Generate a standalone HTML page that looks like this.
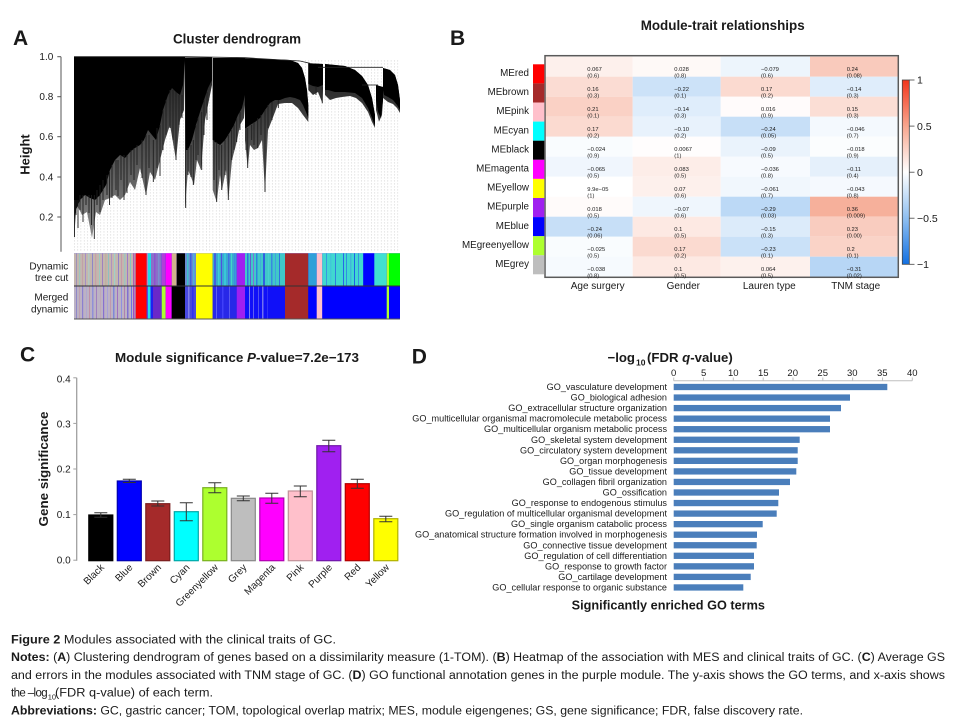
<!DOCTYPE html>
<html><head><meta charset="utf-8"><style>
html,body{margin:0;padding:0;background:#fff;}
svg{display:block;}
text{font-family:"Liberation Sans",Arial,sans-serif;fill:#1a1a1a;}
</style></head><body>
<svg width="957" height="724" viewBox="0 0 957 724" xmlns="http://www.w3.org/2000/svg">
<defs>
<pattern id="leaf" width="3.3" height="3" patternUnits="userSpaceOnUse"><rect x="1.4" y="0" width="0.6" height="1.7" fill="#d6d6d6"/></pattern>
<linearGradient id="cbar" x1="0" y1="0" x2="0" y2="1">
<stop offset="0" stop-color="#f2361c"/><stop offset="0.25" stop-color="#f8a68e"/><stop offset="0.5" stop-color="#ffffff"/><stop offset="0.75" stop-color="#8fbff0"/><stop offset="1" stop-color="#1270e2"/>
</linearGradient>
<linearGradient id="streak" gradientUnits="userSpaceOnUse" x1="0" y1="80" x2="0" y2="240">
<stop offset="0" stop-color="#2a2a2a"/><stop offset="0.5" stop-color="#555"/><stop offset="1" stop-color="#8a8a8a"/>
</linearGradient>
</defs>

<!-- ============ PANEL A ============ -->
<text x="13" y="45" font-size="21" font-weight="bold">A</text>
<text x="237" y="43.7" font-size="13.4" font-weight="bold" text-anchor="middle" textLength="128" lengthAdjust="spacingAndGlyphs">Cluster dendrogram</text>
<line x1="61" y1="56.7" x2="61" y2="251.7" stroke="#555" stroke-width="1"/>
<g stroke="#555" stroke-width="1">
<line x1="57.3" y1="56.7" x2="61" y2="56.7"/><line x1="57.3" y1="96.7" x2="61" y2="96.7"/><line x1="57.3" y1="136.7" x2="61" y2="136.7"/><line x1="57.3" y1="177" x2="61" y2="177"/><line x1="57.3" y1="217" x2="61" y2="217"/>
</g>
<g font-size="10" text-anchor="end">
<text x="53.3" y="60.2">1.0</text><text x="53.3" y="100.2">0.8</text><text x="53.3" y="140.2">0.6</text><text x="53.3" y="180.5">0.4</text><text x="53.3" y="220.5">0.2</text>
</g>
<text transform="translate(29.5,154.5) rotate(-90)" font-size="13" font-weight="bold" text-anchor="middle">Height</text>

<rect x="74" y="60" width="326" height="192" fill="url(#leaf)"/>

<g fill="url(#streak)">
<polygon points="74,57 185,57 185,60 184,110 180,120 176,160 170,125 165,140 160,160 155,180 150,172 146,195 140,168 135,190 130,182 125,195 120,200 115,195 110,198 105,200 100,215 96,212 92,238 87,212 82,215 77,205 74,236"/>
<polygon points="185,57.5 212,57.5 212,85 209,100 205,120 201,170 197,160 194,185 191,177 188,170 185,208"/>
<polygon points="212.7,58 245,58 245,105 244,118 240,125 236.7,142 232,160 228.3,200 226,170 222,190 220,175 216.7,202 212.7,190"/>
<polygon points="245,58.3 290,60 298,63 302,68 305,78 307,90 308.3,105 308.3,122 303,115 298,108 292,103 285,103 278,104 272,120 268,130 265,192 262,140 258,148 254,150 250,145 247.7,168 245,140"/>
<polygon points="308.3,63.3 323,64 323,88 322.3,103 318,92 313,95 308.3,90"/>
<polygon points="325,64 345,66 355,70 362,76 368,85 372,98 375,115 375,128 372,122 368,112 362,103 356,98 350,96 342,97 336,98 330,100 325,95"/>
<polygon points="376,85 383,87 383,100 382,115 379,121.7 376,110"/>
<polygon points="383,68 390,70 395,75 398,85 400,100 400,113 397,108 393,104 388,102 383,98"/>
</g>
<g fill="#000">
<polygon points="74,57 185,57 185,60 183,85 180,95 176,92 172,88 168,95 163,110 160,125 156,140 152,135 148,130 144,140 140,145 135,148 130,152 125,158 120,155 115,160 110,170 106,185 100,195 95,200 90,198 85,195 80,200 76,210 74,220"/>
<polygon points="185,57.5 212,57.5 212,80 208,88 204,100 200,112 196,125 192,140 188,150 185.5,150"/>
<polygon points="212.7,58 245,58 245,95 242,108 238,115 234,125 230,132 225,140 220,145 215,142 212.7,140"/>
<polygon points="245,58.3 290,60 298,63 302,68 305,78 307,90 308.3,105 308.3,118 306,112 303,105 300,100 295,98 290,97 285,98 280,100 275,100 270,103 265,110 260,118 255,122 250,125 246,128 245,128"/>
<polygon points="308.3,63.3 323,64 323,85 318,87 313,86 308.3,84"/>
<polygon points="325,64 345,66 355,70 362,76 368,85 372,98 375,115 375,126 372,118 368,108 362,98 355,93 345,92 335,92 328,90 325,90"/>
<polygon points="376,85 383,87 383,100 381,118 378,112 376,100"/>
<polygon points="383,68 390,70 395,75 398,85 400,100 400,110 397,105 393,100 388,97 384,95 383,90"/>
</g>
<g stroke="#1e1e1e" stroke-width="0.9">
<line x1="74.5" y1="200" x2="74.5" y2="237"/><line x1="76" y1="200" x2="76" y2="215"/><line x1="78" y1="200" x2="78" y2="228"/><line x1="80" y1="195" x2="80" y2="210"/><line x1="83" y1="195" x2="83" y2="222"/><line x1="86" y1="195" x2="86" y2="205"/><line x1="89" y1="195" x2="89" y2="213"/><line x1="91.5" y1="195" x2="91.5" y2="225"/><line x1="94.3" y1="195" x2="94.3" y2="239"/><line x1="97" y1="190" x2="97" y2="205"/><line x1="100" y1="185" x2="100" y2="212"/><line x1="103" y1="180" x2="103" y2="200"/><line x1="107" y1="175" x2="107" y2="195"/><line x1="109.5" y1="172" x2="109.5" y2="205"/><line x1="112" y1="165" x2="112" y2="198"/><line x1="116" y1="160" x2="116" y2="190"/><line x1="118" y1="160" x2="118" y2="196"/><line x1="121" y1="155" x2="121" y2="180"/><line x1="124" y1="155" x2="124" y2="200"/><line x1="127" y1="155" x2="127" y2="193"/><line x1="131" y1="150" x2="131" y2="175"/><line x1="134" y1="148" x2="134" y2="180"/><line x1="137" y1="145" x2="137" y2="165"/><line x1="142" y1="140" x2="142" y2="178"/><line x1="146" y1="135" x2="146" y2="195"/><line x1="149" y1="135" x2="149" y2="168"/><line x1="153.3" y1="140" x2="153.3" y2="182"/><line x1="157" y1="128" x2="157" y2="168"/><line x1="160" y1="125" x2="160" y2="176"/><line x1="163" y1="110" x2="163" y2="150"/><line x1="166" y1="100" x2="166" y2="135"/><line x1="170" y1="90" x2="170" y2="128"/><line x1="173" y1="90" x2="173" y2="140"/><line x1="176" y1="92" x2="176" y2="160"/><line x1="179" y1="95" x2="179" y2="125"/><line x1="182" y1="95" x2="182" y2="118"/>
<line x1="185.7" y1="150" x2="185.7" y2="208"/><line x1="188" y1="148" x2="188" y2="175"/><line x1="191" y1="145" x2="191" y2="177"/><line x1="193.3" y1="140" x2="193.3" y2="185"/><line x1="196" y1="125" x2="196" y2="160"/><line x1="198" y1="118" x2="198" y2="155"/><line x1="201.7" y1="112" x2="201.7" y2="170"/><line x1="204" y1="100" x2="204" y2="135"/><line x1="207" y1="92" x2="207" y2="120"/>
<line x1="214" y1="140" x2="214" y2="180"/><line x1="216.7" y1="142" x2="216.7" y2="202"/><line x1="219" y1="145" x2="219" y2="170"/><line x1="221.7" y1="145" x2="221.7" y2="190"/><line x1="225" y1="140" x2="225" y2="175"/><line x1="228.3" y1="135" x2="228.3" y2="200"/><line x1="231.7" y1="130" x2="231.7" y2="160"/><line x1="234" y1="125" x2="234" y2="150"/><line x1="236.7" y1="118" x2="236.7" y2="142"/><line x1="240" y1="112" x2="240" y2="130"/>
<line x1="246" y1="128" x2="246" y2="150"/><line x1="247.7" y1="128" x2="247.7" y2="168"/><line x1="251.7" y1="125" x2="251.7" y2="140"/><line x1="254" y1="122" x2="254" y2="145"/><line x1="257.7" y1="118" x2="257.7" y2="148"/><line x1="261" y1="115" x2="261" y2="135"/><line x1="265" y1="110" x2="265" y2="192"/><line x1="268" y1="105" x2="268" y2="128"/><line x1="272" y1="102" x2="272" y2="120"/><line x1="278.3" y1="100" x2="278.3" y2="108"/>
<line x1="322.3" y1="87" x2="322.3" y2="103.3"/><line x1="316" y1="87" x2="316" y2="95"/>
</g>
<g stroke="#222" stroke-width="0.8" fill="none">
<polyline points="74,56.7 186,56.7 245,57.7 300,61 310,63.3"/>
<line x1="318" y1="67.3" x2="383" y2="67.3"/>
<line x1="362" y1="85" x2="378" y2="85"/>
</g>

<!-- color bars -->
<rect x="74" y="253.3" width="326" height="65.7" fill="#0000ff"/>
<g>
<rect x="74" y="253.3" width="61.7" height="32.7" fill="#c4b6ae"/>
<rect x="76" y="253.3" width="1" height="32.7" fill="#a090b8"/><rect x="79" y="253.3" width="1.2" height="32.7" fill="#9fc6bd"/><rect x="82" y="253.3" width="0.8" height="32.7" fill="#c29aa6"/><rect x="85" y="253.3" width="1" height="32.7" fill="#a78fc4"/><rect x="88" y="253.3" width="1.5" height="32.7" fill="#b0c8c0"/><rect x="92" y="253.3" width="1" height="32.7" fill="#8f86c8"/><rect x="95" y="253.3" width="1.2" height="32.7" fill="#c8a0a8"/><rect x="99" y="253.3" width="1" height="32.7" fill="#9ccac0"/><rect x="102" y="253.3" width="1" height="32.7" fill="#a080c0"/><rect x="105" y="253.3" width="1.5" height="32.7" fill="#c0b0a0"/><rect x="108" y="253.3" width="1" height="32.7" fill="#8fc0c0"/><rect x="111" y="253.3" width="1" height="32.7" fill="#b090c0"/><rect x="114" y="253.3" width="1.2" height="32.7" fill="#a0d0c8"/><rect x="118" y="253.3" width="1" height="32.7" fill="#9080c8"/><rect x="121" y="253.3" width="1" height="32.7" fill="#c898a8"/><rect x="124" y="253.3" width="1.5" height="32.7" fill="#a0c4c0"/><rect x="127" y="253.3" width="1" height="32.7" fill="#a078c8"/><rect x="130" y="253.3" width="1" height="32.7" fill="#80c8c0"/><rect x="133" y="253.3" width="1.5" height="32.7" fill="#b060b0"/>
<rect x="135.7" y="253.3" width="11" height="32.7" fill="#ff0000"/>
<rect x="146.7" y="253.3" width="1.3" height="32.7" fill="#b090c0"/>
<rect x="148" y="253.3" width="3" height="32.7" fill="#20d8e8"/>
<rect x="151" y="253.3" width="10.7" height="32.7" fill="#8a70c8"/>
<rect x="154" y="253.3" width="1.5" height="32.7" fill="#9050d0"/><rect x="158" y="253.3" width="1.5" height="32.7" fill="#7a90d0"/>
<rect x="161.7" y="253.3" width="4" height="32.7" fill="#b040d8"/>
<rect x="165.7" y="253.3" width="6" height="32.7" fill="#ff00ff"/>
<rect x="171.7" y="253.3" width="5" height="32.7" fill="#d2b48c"/>
<rect x="176.7" y="253.3" width="8.3" height="32.7" fill="#000"/>
<rect x="185" y="253.3" width="11" height="32.7" fill="#6a8cd0"/>
<rect x="187" y="253.3" width="1.5" height="32.7" fill="#40c0c8"/><rect x="190" y="253.3" width="1.5" height="32.7" fill="#4060e0"/><rect x="193" y="253.3" width="1.5" height="32.7" fill="#50b0d8"/>
<rect x="196" y="253.3" width="16.7" height="32.7" fill="#ffff00"/>
<rect x="212.7" y="253.3" width="24" height="32.7" fill="#3aa8d0"/>
<rect x="214" y="253.3" width="2" height="32.7" fill="#4060e0"/><rect x="218" y="253.3" width="1.5" height="32.7" fill="#40d0d0"/><rect x="221" y="253.3" width="1" height="32.7" fill="#5050e0"/><rect x="224" y="253.3" width="2" height="32.7" fill="#38c8d8"/><rect x="228" y="253.3" width="1.5" height="32.7" fill="#4070e0"/><rect x="231" y="253.3" width="1" height="32.7" fill="#40d8c8"/><rect x="234" y="253.3" width="1.5" height="32.7" fill="#3890e0"/>
<rect x="236.7" y="253.3" width="8.3" height="32.7" fill="#a020f0"/>
<rect x="245" y="253.3" width="40" height="32.7" fill="#40c8c8"/>
<rect x="247" y="253.3" width="1.5" height="32.7" fill="#3070e0"/><rect x="250" y="253.3" width="1" height="32.7" fill="#6060d0"/><rect x="253" y="253.3" width="1" height="32.7" fill="#8070d8"/><rect x="256" y="253.3" width="1.5" height="32.7" fill="#3080e0"/><rect x="260" y="253.3" width="1" height="32.7" fill="#40b0d8"/><rect x="263" y="253.3" width="2" height="32.7" fill="#3060e0"/><rect x="268" y="253.3" width="1" height="32.7" fill="#48d0d0"/><rect x="271" y="253.3" width="1.5" height="32.7" fill="#3888e0"/><rect x="275" y="253.3" width="1" height="32.7" fill="#40a0e0"/><rect x="279" y="253.3" width="1" height="32.7" fill="#3070e0"/>
<rect x="285" y="253.3" width="23.3" height="32.7" fill="#a52a2a"/>
<rect x="308.3" y="253.3" width="8.4" height="32.7" fill="#30a0d8"/>
<rect x="316.7" y="253.3" width="5.6" height="32.7" fill="#ffc0cb"/>
<rect x="322.3" y="253.3" width="41" height="32.7" fill="#40d8d0"/>
<rect x="326" y="253.3" width="1" height="32.7" fill="#3898e0"/><rect x="330" y="253.3" width="1.5" height="32.7" fill="#40c8d8"/><rect x="335" y="253.3" width="1" height="32.7" fill="#3080e0"/><rect x="343" y="253.3" width="1" height="32.7" fill="#2868e8"/><rect x="346" y="253.3" width="1" height="32.7" fill="#3090e0"/><rect x="350" y="253.3" width="1.5" height="32.7" fill="#40b8d8"/><rect x="354" y="253.3" width="1" height="32.7" fill="#2060e8"/><rect x="358" y="253.3" width="1" height="32.7" fill="#3890e0"/>
<rect x="363.3" y="253.3" width="11" height="32.7" fill="#0000ff"/>
<rect x="374.3" y="253.3" width="12.4" height="32.7" fill="#40e0d0"/>
<rect x="386.7" y="253.3" width="2.3" height="32.7" fill="#adff2f"/>
<rect x="389" y="253.3" width="11" height="32.7" fill="#00ff00"/>
</g>
<g>
<rect x="74" y="286" width="61.7" height="33" fill="#bcb2c4"/>
<rect x="76" y="286" width="1" height="33" fill="#9088c8"/><rect x="79" y="286" width="1" height="33" fill="#c0a0b0"/><rect x="82" y="286" width="1.2" height="33" fill="#8c80d0"/><rect x="86" y="286" width="1" height="33" fill="#b0a8d0"/><rect x="89" y="286" width="1" height="33" fill="#c090a8"/><rect x="92" y="286" width="1.5" height="33" fill="#9090d8"/><rect x="96" y="286" width="1" height="33" fill="#a080c0"/><rect x="100" y="286" width="1" height="33" fill="#c0a8b8"/><rect x="103" y="286" width="1.2" height="33" fill="#8870d0"/><rect x="107" y="286" width="1" height="33" fill="#a8a0d8"/><rect x="110" y="286" width="1" height="33" fill="#c098b0"/><rect x="113" y="286" width="1.5" height="33" fill="#8088d8"/><rect x="117" y="286" width="1" height="33" fill="#a070c0"/><rect x="121" y="286" width="1" height="33" fill="#9090e0"/><rect x="124" y="286" width="1" height="33" fill="#b080b0"/><rect x="127" y="286" width="1.5" height="33" fill="#8070d0"/><rect x="131" y="286" width="1" height="33" fill="#7070e0"/><rect x="133" y="286" width="1.5" height="33" fill="#a050c0"/>
<rect x="135.7" y="286" width="11" height="33" fill="#ff0000"/>
<rect x="146.7" y="286" width="1.3" height="33" fill="#5050e0"/>
<rect x="148" y="286" width="2.5" height="33" fill="#20e0f0"/>
<rect x="150.5" y="286" width="2.5" height="33" fill="#2020f0"/>
<rect x="153" y="286" width="8.7" height="33" fill="#6a28c8"/>
<rect x="161.7" y="286" width="4" height="33" fill="#adff2f"/>
<rect x="165.7" y="286" width="6" height="33" fill="#ff00ff"/>
<rect x="171.7" y="286" width="13.3" height="33" fill="#000"/>
<rect x="185" y="286" width="11" height="33" fill="#4848e0"/>
<rect x="188" y="286" width="1.5" height="33" fill="#8080e8"/><rect x="192" y="286" width="1.5" height="33" fill="#3030f0"/>
<rect x="196" y="286" width="16.7" height="33" fill="#ffff00"/>
<rect x="212.7" y="286" width="24" height="33" fill="#2828e8"/>
<rect x="216" y="286" width="1" height="33" fill="#6060f0"/><rect x="222" y="286" width="1.5" height="33" fill="#4040f8"/><rect x="229" y="286" width="1" height="33" fill="#5858f0"/>
<rect x="236.7" y="286" width="8.3" height="33" fill="#a020f0"/>
<rect x="245" y="286" width="40" height="33" fill="#1010f8"/>
<rect x="249" y="286" width="1" height="33" fill="#8080f0"/><rect x="253" y="286" width="1" height="33" fill="#6060f0"/><rect x="258" y="286" width="1" height="33" fill="#5050f0"/><rect x="262" y="286" width="1.5" height="33" fill="#7070f0"/><rect x="267" y="286" width="1" height="33" fill="#3030f8"/>
<rect x="285" y="286" width="23.3" height="33" fill="#a52a2a"/>
<rect x="308.3" y="286" width="8.4" height="33" fill="#0000ff"/>
<rect x="316.7" y="286" width="5.6" height="33" fill="#ffc0cb"/>
<rect x="322.3" y="286" width="64.4" height="33" fill="#0000ff"/>
<rect x="386.7" y="286" width="2.3" height="33" fill="#adff2f"/>
<rect x="389" y="286" width="11" height="33" fill="#0000ff"/>
</g>
<line x1="74" y1="286" x2="400" y2="286" stroke="#333" stroke-width="1"/>
<line x1="74" y1="319" x2="400" y2="319" stroke="#555" stroke-width="1"/>
<g font-size="10" text-anchor="end">
<text x="68.3" y="269.3">Dynamic</text><text x="68.3" y="281">tree cut</text>
<text x="68.3" y="300.3">Merged</text><text x="68.3" y="312.3">dynamic</text>
</g>

<!-- ============ PANEL B ============ -->
<text x="450" y="45" font-size="21" font-weight="bold">B</text>
<text x="722.7" y="30" font-size="13.5" font-weight="bold" text-anchor="middle" textLength="164" lengthAdjust="spacingAndGlyphs">Module-trait relationships</text>
<g>
<rect x="545" y="56.7" width="87.7" height="20" fill="#fdf0ec"/><rect x="632.7" y="56.7" width="88" height="20" fill="#fef9f7"/><rect x="720.7" y="56.7" width="89.3" height="20" fill="#edf5fc"/><rect x="810" y="56.7" width="88.3" height="20" fill="#f9cabc"/>
<rect x="545" y="76.7" width="87.7" height="20" fill="#fbdcd3"/><rect x="632.7" y="76.7" width="88" height="20" fill="#cce2f8"/><rect x="720.7" y="76.7" width="89.3" height="20" fill="#fbdad0"/><rect x="810" y="76.7" width="88.3" height="20" fill="#dfedfb"/>
<rect x="545" y="96.7" width="87.7" height="20" fill="#fad1c5"/><rect x="632.7" y="96.7" width="88" height="20" fill="#dfedfb"/><rect x="720.7" y="96.7" width="89.3" height="20" fill="#fffbfb"/><rect x="810" y="96.7" width="88.3" height="20" fill="#fbded5"/>
<rect x="545" y="116.7" width="87.7" height="20" fill="#fbdad0"/><rect x="632.7" y="116.7" width="88" height="20" fill="#e8f2fc"/><rect x="720.7" y="116.7" width="89.3" height="20" fill="#c7dff7"/><rect x="810" y="116.7" width="88.3" height="20" fill="#f4f9fe"/>
<rect x="545" y="136.7" width="87.7" height="20" fill="#f9fcfe"/><rect x="632.7" y="136.7" width="88" height="20" fill="#fffdfd"/><rect x="720.7" y="136.7" width="89.3" height="20" fill="#eaf3fc"/><rect x="810" y="136.7" width="88.3" height="20" fill="#fbfdfe"/>
<rect x="545" y="156.7" width="87.7" height="20" fill="#f0f6fd"/><rect x="632.7" y="156.7" width="88" height="20" fill="#fdede8"/><rect x="720.7" y="156.7" width="89.3" height="20" fill="#f7fafe"/><rect x="810" y="156.7" width="88.3" height="20" fill="#e5f0fb"/>
<rect x="545" y="176.7" width="87.7" height="20" fill="#ffffff"/><rect x="632.7" y="176.7" width="88" height="20" fill="#fdf0ec"/><rect x="720.7" y="176.7" width="89.3" height="20" fill="#f1f7fd"/><rect x="810" y="176.7" width="88.3" height="20" fill="#f5f9fe"/>
<rect x="545" y="196.7" width="87.7" height="20" fill="#fffbfa"/><rect x="632.7" y="196.7" width="88" height="20" fill="#eff6fd"/><rect x="720.7" y="196.7" width="89.3" height="20" fill="#bcd9f6"/><rect x="810" y="196.7" width="88.3" height="20" fill="#f6b09b"/>
<rect x="545" y="216.7" width="87.7" height="20" fill="#c7dff7"/><rect x="632.7" y="216.7" width="88" height="20" fill="#fde9e3"/><rect x="720.7" y="216.7" width="89.3" height="20" fill="#dcebfa"/><rect x="810" y="216.7" width="88.3" height="20" fill="#f9ccbf"/>
<rect x="545" y="236.7" width="87.7" height="20" fill="#f9fcfe"/><rect x="632.7" y="236.7" width="88" height="20" fill="#fbdad0"/><rect x="720.7" y="236.7" width="89.3" height="20" fill="#cae1f8"/><rect x="810" y="236.7" width="88.3" height="20" fill="#fad3c7"/>
<rect x="545" y="256.7" width="87.7" height="20.6" fill="#f6fafe"/><rect x="632.7" y="256.7" width="88" height="20.6" fill="#fde9e3"/><rect x="720.7" y="256.7" width="89.3" height="20.6" fill="#fdf1ed"/><rect x="810" y="256.7" width="88.3" height="20.6" fill="#b7d6f5"/>
</g>
<rect x="545" y="55.7" width="353.3" height="221.6" fill="none" stroke="#5a5a5a" stroke-width="1.5"/>
<g font-size="5.8" fill="#222">
<text x="587.3" y="71">0.067</text><text x="587.3" y="77.7">(0.6)</text>
<text x="674.3" y="71">0.028</text><text x="674.3" y="77.7">(0.8)</text>
<text x="761" y="71">−0.079</text><text x="761" y="77.7">(0.6)</text>
<text x="846.7" y="71">0.24</text><text x="846.7" y="77.7">(0.08)</text>
<text x="587.3" y="91">0.16</text><text x="587.3" y="97.7">(0.3)</text>
<text x="674.3" y="91">−0.22</text><text x="674.3" y="97.7">(0.1)</text>
<text x="761" y="91">0.17</text><text x="761" y="97.7">(0.2)</text>
<text x="846.7" y="91">−0.14</text><text x="846.7" y="97.7">(0.3)</text>
<text x="587.3" y="111">0.21</text><text x="587.3" y="117.7">(0.1)</text>
<text x="674.3" y="111">−0.14</text><text x="674.3" y="117.7">(0.3)</text>
<text x="761" y="111">0.016</text><text x="761" y="117.7">(0.9)</text>
<text x="846.7" y="111">0.15</text><text x="846.7" y="117.7">(0.3)</text>
<text x="587.3" y="131">0.17</text><text x="587.3" y="137.7">(0.2)</text>
<text x="674.3" y="131">−0.10</text><text x="674.3" y="137.7">(0.2)</text>
<text x="761" y="131">−0.24</text><text x="761" y="137.7">(0.05)</text>
<text x="846.7" y="131">−0.046</text><text x="846.7" y="137.7">(0.7)</text>
<text x="587.3" y="151">−0.024</text><text x="587.3" y="157.7">(0.9)</text>
<text x="674.3" y="151">0.0067</text><text x="674.3" y="157.7">(1)</text>
<text x="761" y="151">−0.09</text><text x="761" y="157.7">(0.5)</text>
<text x="846.7" y="151">−0.018</text><text x="846.7" y="157.7">(0.9)</text>
<text x="587.3" y="171">−0.065</text><text x="587.3" y="177.7">(0.5)</text>
<text x="674.3" y="171">0.083</text><text x="674.3" y="177.7">(0.5)</text>
<text x="761" y="171">−0.036</text><text x="761" y="177.7">(0.8)</text>
<text x="846.7" y="171">−0.11</text><text x="846.7" y="177.7">(0.4)</text>
<text x="587.3" y="191">9.9e−05</text><text x="587.3" y="197.7">(1)</text>
<text x="674.3" y="191">0.07</text><text x="674.3" y="197.7">(0.6)</text>
<text x="761" y="191">−0.061</text><text x="761" y="197.7">(0.7)</text>
<text x="846.7" y="191">−0.043</text><text x="846.7" y="197.7">(0.8)</text>
<text x="587.3" y="211">0.018</text><text x="587.3" y="217.7">(0.5)</text>
<text x="674.3" y="211">−0.07</text><text x="674.3" y="217.7">(0.6)</text>
<text x="761" y="211">−0.29</text><text x="761" y="217.7">(0.03)</text>
<text x="846.7" y="211">0.36</text><text x="846.7" y="217.7">(0.009)</text>
<text x="587.3" y="231">−0.24</text><text x="587.3" y="237.7">(0.06)</text>
<text x="674.3" y="231">0.1</text><text x="674.3" y="237.7">(0.5)</text>
<text x="761" y="231">−0.15</text><text x="761" y="237.7">(0.3)</text>
<text x="846.7" y="231">0.23</text><text x="846.7" y="237.7">(0.00)</text>
<text x="587.3" y="251">−0.025</text><text x="587.3" y="257.7">(0.5)</text>
<text x="674.3" y="251">0.17</text><text x="674.3" y="257.7">(0.2)</text>
<text x="761" y="251">−0.23</text><text x="761" y="257.7">(0.1)</text>
<text x="846.7" y="251">0.2</text><text x="846.7" y="257.7">(0.1)</text>
<text x="587.3" y="271">−0.038</text><text x="587.3" y="277.7">(0.8)</text>
<text x="674.3" y="271">0.1</text><text x="674.3" y="277.7">(0.5)</text>
<text x="761" y="271">0.064</text><text x="761" y="277.7">(0.5)</text>
<text x="846.7" y="271">−0.31</text><text x="846.7" y="277.7">(0.02)</text>
</g>
<g>
<rect x="533" y="64.3" width="11.3" height="19.1" fill="#ff0000"/>
<rect x="533" y="83.4" width="11.3" height="19.1" fill="#a52a2a"/>
<rect x="533" y="102.5" width="11.3" height="19.1" fill="#ffc0cb"/>
<rect x="533" y="121.6" width="11.3" height="19.1" fill="#00ffff"/>
<rect x="533" y="140.7" width="11.3" height="19.1" fill="#000000"/>
<rect x="533" y="159.8" width="11.3" height="19.1" fill="#ff00ff"/>
<rect x="533" y="178.9" width="11.3" height="19.1" fill="#ffff00"/>
<rect x="533" y="198" width="11.3" height="19.1" fill="#a020f0"/>
<rect x="533" y="217.1" width="11.3" height="19.1" fill="#0000ff"/>
<rect x="533" y="236.2" width="11.3" height="19.1" fill="#adff2f"/>
<rect x="533" y="255.3" width="11.3" height="19" fill="#bebebe"/>
</g>
<g font-size="9.8" text-anchor="end">
<text x="529" y="76">MEred</text>
<text x="529" y="95.1">MEbrown</text>
<text x="529" y="114.2">MEpink</text>
<text x="529" y="133.3">MEcyan</text>
<text x="529" y="152.4">MEblack</text>
<text x="529" y="171.5">MEmagenta</text>
<text x="529" y="190.6">MEyellow</text>
<text x="529" y="209.7">MEpurple</text>
<text x="529" y="228.8">MEblue</text>
<text x="529" y="247.9">MEgreenyellow</text>
<text x="529" y="267">MEgrey</text>
</g>
<g font-size="10" text-anchor="middle">
<text x="597.7" y="289.2">Age surgery</text>
<text x="683.3" y="289.2">Gender</text>
<text x="769.3" y="289.2">Lauren type</text>
<text x="855.7" y="289.2">TNM stage</text>
</g>
<rect x="902.3" y="80" width="7" height="184.3" fill="url(#cbar)" stroke="#444" stroke-width="0.8"/>
<g stroke="#444" stroke-width="0.8">
<line x1="909.3" y1="80" x2="914.5" y2="80"/><line x1="909.3" y1="126.1" x2="914.5" y2="126.1"/><line x1="909.3" y1="172.2" x2="914.5" y2="172.2"/><line x1="909.3" y1="218.2" x2="914.5" y2="218.2"/><line x1="909.3" y1="264.3" x2="914.5" y2="264.3"/>
</g>
<g font-size="10.5">
<text x="917" y="83.7">1</text><text x="917" y="129.8">0.5</text><text x="917" y="175.9">0</text><text x="917" y="221.9">−0.5</text><text x="917" y="268">−1</text>
</g>

<!-- ============ PANEL C ============ -->
<text x="20" y="361.7" font-size="21" font-weight="bold">C</text>
<text x="237" y="361.8" font-size="13.2" font-weight="bold" text-anchor="middle" textLength="244" lengthAdjust="spacingAndGlyphs">Module significance <tspan font-style="italic">P</tspan>-value=7.2e−173</text>
<line x1="76.7" y1="377.8" x2="76.7" y2="560.7" stroke="#a0a0a0" stroke-width="1.3"/>
<g stroke="#a0a0a0" stroke-width="1">
<line x1="73.3" y1="377.8" x2="76.7" y2="377.8"/><line x1="73.3" y1="423.4" x2="76.7" y2="423.4"/><line x1="73.3" y1="469" x2="76.7" y2="469"/><line x1="73.3" y1="514.6" x2="76.7" y2="514.6"/><line x1="73.3" y1="560.2" x2="76.7" y2="560.2"/>
</g>
<g font-size="10" text-anchor="end">
<text x="70.7" y="382.5">0.4</text><text x="70.7" y="427.5">0.3</text><text x="70.7" y="472.5">0.2</text><text x="70.7" y="517.8">0.1</text><text x="70.7" y="563.5">0.0</text>
</g>
<text transform="translate(47.8,469) rotate(-90)" font-size="13" font-weight="bold" text-anchor="middle" textLength="115" lengthAdjust="spacingAndGlyphs">Gene significance</text>
<g stroke-width="1.2">
<rect x="88.8" y="515" width="24" height="45.7" fill="#000000" stroke="#000"/>
<rect x="117.3" y="481" width="24" height="79.7" fill="#0000ff" stroke="#0000b0"/>
<rect x="145.8" y="503.7" width="24" height="57" fill="#a52a2a" stroke="#7a1f1f"/>
<rect x="174.3" y="511.7" width="24" height="49" fill="#00ffff" stroke="#00a8a8"/>
<rect x="202.8" y="487.7" width="24" height="73" fill="#adff2f" stroke="#78b020"/>
<rect x="231.3" y="498.3" width="24" height="62.4" fill="#bebebe" stroke="#888"/>
<rect x="259.8" y="498" width="24" height="62.7" fill="#ff00ff" stroke="#b000b0"/>
<rect x="288.3" y="491" width="24" height="69.7" fill="#ffc0cb" stroke="#c09098"/>
<rect x="316.8" y="445.7" width="24" height="115" fill="#a020f0" stroke="#7018a8"/>
<rect x="345.3" y="483.7" width="24" height="77" fill="#ff0000" stroke="#b00000"/>
<rect x="373.8" y="518.7" width="24" height="42" fill="#ffff00" stroke="#b0b000"/>
</g>
<g stroke="#333" stroke-width="1" fill="none">
<path d="M94.3,512.7H107.3M100.8,512.7V517.3M94.3,517.3H107.3"/>
<path d="M122.8,479.3H135.8M129.3,479.3V482.5M122.8,482.5H135.8"/>
<path d="M151.3,501H164.3M157.8,501V506M151.3,506H164.3"/>
<path d="M179.8,502.7H192.8M186.3,502.7V520.7M179.8,520.7H192.8"/>
<path d="M208.3,482.7H221.3M214.8,482.7V492.7M208.3,492.7H221.3"/>
<path d="M236.8,496H249.8M243.3,496V500.7M236.8,500.7H249.8"/>
<path d="M265.3,493.3H278.3M271.8,493.3V503.3M265.3,503.3H278.3"/>
<path d="M293.8,486H306.8M300.3,486V496.7M293.8,496.7H306.8"/>
<path d="M322.3,440.3H335.3M328.8,440.3V451.7M322.3,451.7H335.3"/>
<path d="M350.8,479.3H363.8M357.3,479.3V488.3M350.8,488.3H363.8"/>
<path d="M379.3,516.3H392.3M385.8,516.3V521.7M379.3,521.7H392.3"/>
</g>
<g font-size="10" text-anchor="end">
<text transform="translate(104.8,568) rotate(-45)">Black</text>
<text transform="translate(133.3,568) rotate(-45)">Blue</text>
<text transform="translate(161.8,568) rotate(-45)">Brown</text>
<text transform="translate(190.3,568) rotate(-45)">Cyan</text>
<text transform="translate(218.8,568) rotate(-45)">Greenyellow</text>
<text transform="translate(247.3,568) rotate(-45)">Grey</text>
<text transform="translate(275.8,568) rotate(-45)">Magenta</text>
<text transform="translate(304.3,568) rotate(-45)">Pink</text>
<text transform="translate(332.8,568) rotate(-45)">Purple</text>
<text transform="translate(361.3,568) rotate(-45)">Red</text>
<text transform="translate(389.8,568) rotate(-45)">Yellow</text>
</g>

<!-- ============ PANEL D ============ -->
<text x="411.7" y="363.3" font-size="21" font-weight="bold">D</text>
<text x="607.5" y="362" font-size="13.2" font-weight="bold">−log</text>
<text x="636" y="365.5" font-size="8.5" font-weight="bold">10</text>
<text x="647" y="362" font-size="13.2" font-weight="bold">(FDR <tspan font-style="italic">q</tspan>-value)</text>
<line x1="673.7" y1="380.7" x2="912.3" y2="380.7" stroke="#bfbfbf" stroke-width="1"/>
<g stroke="#bfbfbf" stroke-width="1">
<line x1="673.7" y1="377.5" x2="673.7" y2="380.7"/><line x1="703.5" y1="377.5" x2="703.5" y2="380.7"/><line x1="733.3" y1="377.5" x2="733.3" y2="380.7"/><line x1="763.2" y1="377.5" x2="763.2" y2="380.7"/><line x1="793" y1="377.5" x2="793" y2="380.7"/><line x1="822.8" y1="377.5" x2="822.8" y2="380.7"/><line x1="852.6" y1="377.5" x2="852.6" y2="380.7"/><line x1="882.5" y1="377.5" x2="882.5" y2="380.7"/><line x1="912.3" y1="377.5" x2="912.3" y2="380.7"/>
</g>
<g font-size="9.5" text-anchor="middle">
<text x="673.7" y="376">0</text><text x="703.7" y="376">5</text><text x="733.3" y="376">10</text><text x="763.3" y="376">15</text><text x="792.7" y="376">20</text><text x="822.7" y="376">25</text><text x="852.3" y="376">30</text><text x="882.3" y="376">35</text><text x="912.3" y="376">40</text>
</g>
<g fill="#4a7ebb">
<rect x="673.7" y="383.85" width="213.6" height="6.3"/>
<rect x="673.7" y="394.4" width="176.3" height="6.3"/>
<rect x="673.7" y="404.95" width="167.3" height="6.3"/>
<rect x="673.7" y="415.5" width="156.3" height="6.3"/>
<rect x="673.7" y="426.05" width="156.3" height="6.3"/>
<rect x="673.7" y="436.6" width="126" height="6.3"/>
<rect x="673.7" y="447.15" width="124" height="6.3"/>
<rect x="673.7" y="457.7" width="124" height="6.3"/>
<rect x="673.7" y="468.25" width="122.6" height="6.3"/>
<rect x="673.7" y="478.8" width="116.3" height="6.3"/>
<rect x="673.7" y="489.35" width="105.3" height="6.3"/>
<rect x="673.7" y="499.9" width="104.6" height="6.3"/>
<rect x="673.7" y="510.45" width="103" height="6.3"/>
<rect x="673.7" y="521" width="89" height="6.3"/>
<rect x="673.7" y="531.55" width="83.3" height="6.3"/>
<rect x="673.7" y="542.1" width="83" height="6.3"/>
<rect x="673.7" y="552.65" width="80.3" height="6.3"/>
<rect x="673.7" y="563.2" width="80.3" height="6.3"/>
<rect x="673.7" y="573.75" width="77" height="6.3"/>
<rect x="673.7" y="584.3" width="69.6" height="6.3"/>
</g>
<g font-size="8.8" text-anchor="end">
<text x="667" y="390" textLength="120.3" lengthAdjust="spacingAndGlyphs">GO_vasculature development</text>
<text x="667" y="400.55" textLength="96.3" lengthAdjust="spacingAndGlyphs">GO_biological adhesion</text>
<text x="667" y="411.1" textLength="158.7" lengthAdjust="spacingAndGlyphs">GO_extracellular structure organization</text>
<text x="667" y="421.65" textLength="254.7" lengthAdjust="spacingAndGlyphs">GO_multicellular organismal macromolecule metabolic process</text>
<text x="667" y="432.2" textLength="183" lengthAdjust="spacingAndGlyphs">GO_multicellular organism metabolic process</text>
<text x="667" y="442.75" textLength="136" lengthAdjust="spacingAndGlyphs">GO_skeletal system development</text>
<text x="667" y="453.3" textLength="147" lengthAdjust="spacingAndGlyphs">GO_circulatory system development</text>
<text x="667" y="463.85" textLength="107" lengthAdjust="spacingAndGlyphs">GO_organ morphogenesis</text>
<text x="667" y="474.4" textLength="97.7" lengthAdjust="spacingAndGlyphs">GO_tissue development</text>
<text x="667" y="484.95" textLength="124.3" lengthAdjust="spacingAndGlyphs">GO_collagen fibril organization</text>
<text x="667" y="495.5" textLength="64.3" lengthAdjust="spacingAndGlyphs">GO_ossification</text>
<text x="667" y="506.05" textLength="155.3" lengthAdjust="spacingAndGlyphs">GO_response to endogenous stimulus</text>
<text x="667" y="516.6" textLength="222" lengthAdjust="spacingAndGlyphs">GO_regulation of multicellular organismal development</text>
<text x="667" y="527.15" textLength="156" lengthAdjust="spacingAndGlyphs">GO_single organism catabolic process</text>
<text x="667" y="537.7" textLength="252" lengthAdjust="spacingAndGlyphs">GO_anatomical structure formation involved in morphogenesis</text>
<text x="667" y="548.25" textLength="143.7" lengthAdjust="spacingAndGlyphs">GO_connective tissue development</text>
<text x="667" y="558.8" textLength="142.7" lengthAdjust="spacingAndGlyphs">GO_regulation of cell differentiation</text>
<text x="667" y="569.35" textLength="122" lengthAdjust="spacingAndGlyphs">GO_response to growth factor</text>
<text x="667" y="579.9" textLength="108.7" lengthAdjust="spacingAndGlyphs">GO_cartilage development</text>
<text x="667" y="590.45" textLength="174.7" lengthAdjust="spacingAndGlyphs">GO_cellular response to organic substance</text>
</g>
<text x="668.3" y="609.5" font-size="12.5" font-weight="bold" text-anchor="middle" textLength="193.3" lengthAdjust="spacingAndGlyphs">Significantly enriched GO terms</text>

<!-- ============ CAPTION ============ -->
<g font-size="11.5" fill="#231f20">
<text x="11" y="643.3" textLength="325" lengthAdjust="spacingAndGlyphs"><tspan font-weight="bold">Figure 2</tspan> Modules associated with the clinical traits of GC.</text>
<text x="11" y="661" textLength="934" lengthAdjust="spacingAndGlyphs"><tspan font-weight="bold">Notes:</tspan> (<tspan font-weight="bold">A</tspan>) Clustering dendrogram of genes based on a dissimilarity measure (1-TOM). (<tspan font-weight="bold">B</tspan>) Heatmap of the association with MES and clinical traits of GC. (<tspan font-weight="bold">C</tspan>) Average GS</text>
<text x="11" y="679" textLength="934" lengthAdjust="spacingAndGlyphs">and errors in the modules associated with TNM stage of GC. (<tspan font-weight="bold">D</tspan>) GO functional annotation genes in the purple module. The y-axis shows the GO terms, and x-axis shows</text>
<text x="11" y="696.7" textLength="36.7" lengthAdjust="spacing">the –log</text>
<text x="47.7" y="699.5" font-size="7.5">10</text>
<text x="55" y="696.7" textLength="158" lengthAdjust="spacingAndGlyphs">(FDR q-value) of each term.</text>
<text x="11" y="714.3" textLength="792" lengthAdjust="spacingAndGlyphs"><tspan font-weight="bold">Abbreviations:</tspan> GC, gastric cancer; TOM, topological overlap matrix; MES, module eigengenes; GS, gene significance; FDR, false discovery rate.</text>
</g>
</svg>
</body></html>
